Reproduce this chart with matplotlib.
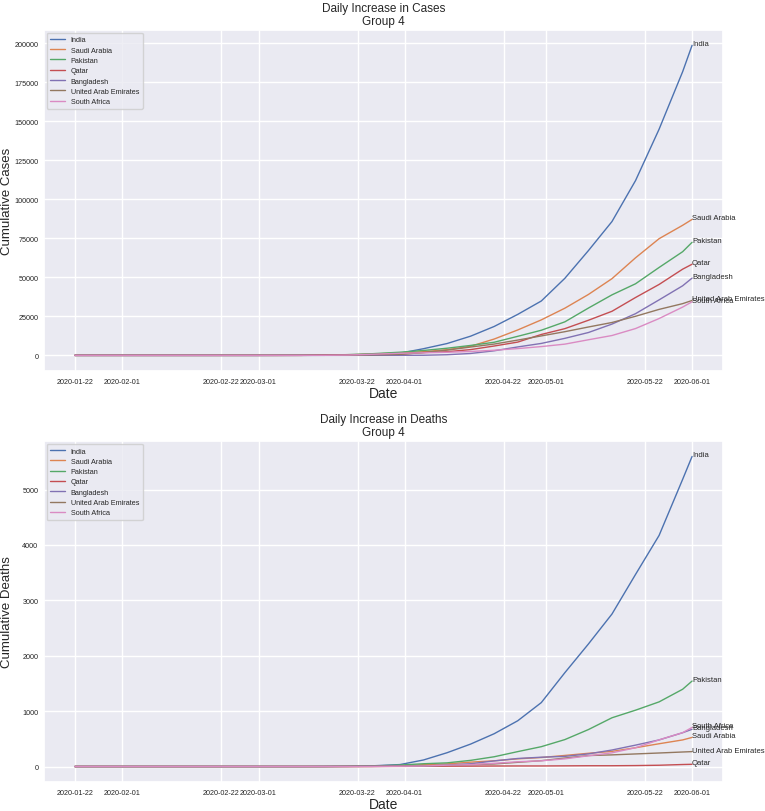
import matplotlib
matplotlib.use('Agg')
import matplotlib.pyplot as plt
import matplotlib.dates as mdates
import pandas as pd
import seaborn as sns

sns.set_theme(style='darkgrid')
plt.rcParams['font.family'] = ['Liberation Sans', 'DejaVu Sans']

# --- data (cumulative) ---
dates = ['2020-01-22', '2020-02-01', '2020-02-10', '2020-02-20', '2020-03-01',
         '2020-03-05', '2020-03-10', '2020-03-15', '2020-03-20', '2020-03-25',
         '2020-03-31', '2020-04-05', '2020-04-10', '2020-04-15', '2020-04-20',
         '2020-04-25', '2020-04-30', '2020-05-05', '2020-05-10', '2020-05-15',
         '2020-05-20', '2020-05-25', '2020-05-30', '2020-06-01']

countries = ['India', 'Saudi Arabia', 'Pakistan', 'Qatar', 'Bangladesh',
             'United Arab Emirates', 'South Africa']

india_cases = [0, 1, 3, 3, 3, 30, 56, 113, 244, 657, 1397, 4289, 7600, 12322, 18539,
               26283, 34863, 49400, 67161, 85784, 112028, 144950, 181827, 198706]
saudi_cases = [0, 0, 0, 0, 0, 5, 15, 103, 274, 900, 1563, 2385, 3651, 5862, 10484,
               16299, 22753, 30251, 39048, 49176, 62545, 74795, 83384, 87142]
pakistan_cases = [0, 0, 0, 0, 4, 5, 19, 53, 501, 1057, 2039, 3157, 4601, 6383, 8418,
                  12227, 16117, 21501, 30334, 38799, 45898, 56349, 66457, 72460]
qatar_cases = [0, 0, 0, 0, 1, 8, 24, 401, 460, 537, 781, 1832, 2376, 3711, 6015,
               8525, 13409, 17142, 22520, 28272, 37097, 45465, 55262, 58433]
bangladesh_cases = [0, 0, 0, 0, 0, 0, 3, 5, 20, 39, 51, 88, 424, 1231, 2948,
                    5416, 7667, 10929, 14657, 20065, 26738, 35585, 44608, 49534]
uae_cases = [0, 5, 8, 9, 21, 27, 45, 98, 140, 333, 664, 1799, 3360, 5365, 7265,
             9813, 12481, 15192, 18198, 21084, 25063, 29485, 33170, 35192]
sa_cases = [0, 0, 0, 0, 0, 1, 7, 51, 202, 709, 1353, 1655, 2003, 2506, 3300,
            4361, 5647, 7220, 10015, 12739, 17200, 23615, 30967, 34357]

india_deaths = [0, 0, 0, 0, 0, 0, 0, 2, 5, 12, 35, 118, 249, 405, 592,
                826, 1154, 1694, 2212, 2753, 3468, 4172, 5185, 5598]
saudi_deaths = [0, 0, 0, 0, 0, 0, 0, 0, 0, 3, 10, 34, 47, 79, 103,
                139, 162, 200, 239, 273, 339, 411, 480, 525]
pakistan_deaths = [0, 0, 0, 0, 0, 0, 0, 0, 3, 8, 27, 50, 66, 111, 176,
                   269, 358, 486, 667, 880, 1017, 1167, 1395, 1543]
qatar_deaths = [0, 0, 0, 0, 0, 0, 0, 0, 0, 0, 2, 4, 6, 7, 9,
                10, 10, 12, 14, 14, 17, 23, 36, 40]
bangladesh_deaths = [0, 0, 0, 0, 0, 0, 0, 0, 1, 5, 6, 9, 27, 50, 101,
                     145, 168, 183, 228, 298, 386, 480, 610, 672]
uae_deaths = [0, 0, 0, 0, 0, 0, 0, 0, 2, 2, 6, 11, 20, 33, 46,
              76, 105, 153, 198, 210, 227, 244, 262, 269]
sa_deaths = [0, 0, 0, 0, 0, 0, 0, 0, 0, 0, 5, 9, 24, 34, 58,
             86, 103, 138, 194, 247, 339, 481, 611, 705]

tick_dates = ['2020-01-22', '2020-02-01', '2020-02-22', '2020-03-01', '2020-03-22',
              '2020-04-01', '2020-04-22', '2020-05-01', '2020-05-22', '2020-06-01']

cases = pd.DataFrame(dict(zip(countries, [india_cases, saudi_cases, pakistan_cases,
                                          qatar_cases, bangladesh_cases, uae_cases, sa_cases])),
                     index=pd.to_datetime(dates))
deaths = pd.DataFrame(dict(zip(countries, [india_deaths, saudi_deaths, pakistan_deaths,
                                           qatar_deaths, bangladesh_deaths, uae_deaths, sa_deaths])),
                      index=pd.to_datetime(dates))

colors = sns.color_palette('deep', 7)

fig = plt.figure(figsize=(7.65, 8.12), dpi=100)
ax_top = fig.add_axes([0.0575, 0.542, 0.8875, 0.420])
ax_bot = fig.add_axes([0.0575, 0.0357, 0.8875, 0.420])


def draw(ax, df, title, ylabel, step):
    for name, c in zip(countries, colors):
        ax.plot(df.index, df[name], color=c, linewidth=1, label=name)
        ax.text(df.index[-1], df[name].iloc[-1], name, fontsize=5.5, color='0.15')
    ax.set_title(title, fontsize=8.5, pad=4)
    ax.set_xlabel('Date', fontsize=10, labelpad=1)
    ax.set_ylabel(ylabel, fontsize=9.5)
    ax.yaxis.set_label_coords(-0.045, 0.5)
    ax.set_xticks(pd.to_datetime(tick_dates))
    ax.xaxis.set_major_formatter(mdates.DateFormatter('%Y-%m-%d'))
    ax.yaxis.set_major_locator(plt.MultipleLocator(step))
    ax.tick_params(axis='x', labelsize=5.2, length=0, pad=5)
    ax.tick_params(axis='y', labelsize=5.2, length=0, pad=4)
    ax.legend(loc='upper left', fontsize=5.2, handlelength=2.0, borderpad=0.5,
              labelspacing=0.45, borderaxespad=0.4)


draw(ax_top, cases, 'Daily Increase in Cases\nGroup 4', 'Cumulative Cases', 25000)
draw(ax_bot, deaths, 'Daily Increase in Deaths\nGroup 4', 'Cumulative Deaths', 1000)

fig.savefig('out.png', dpi=100)
